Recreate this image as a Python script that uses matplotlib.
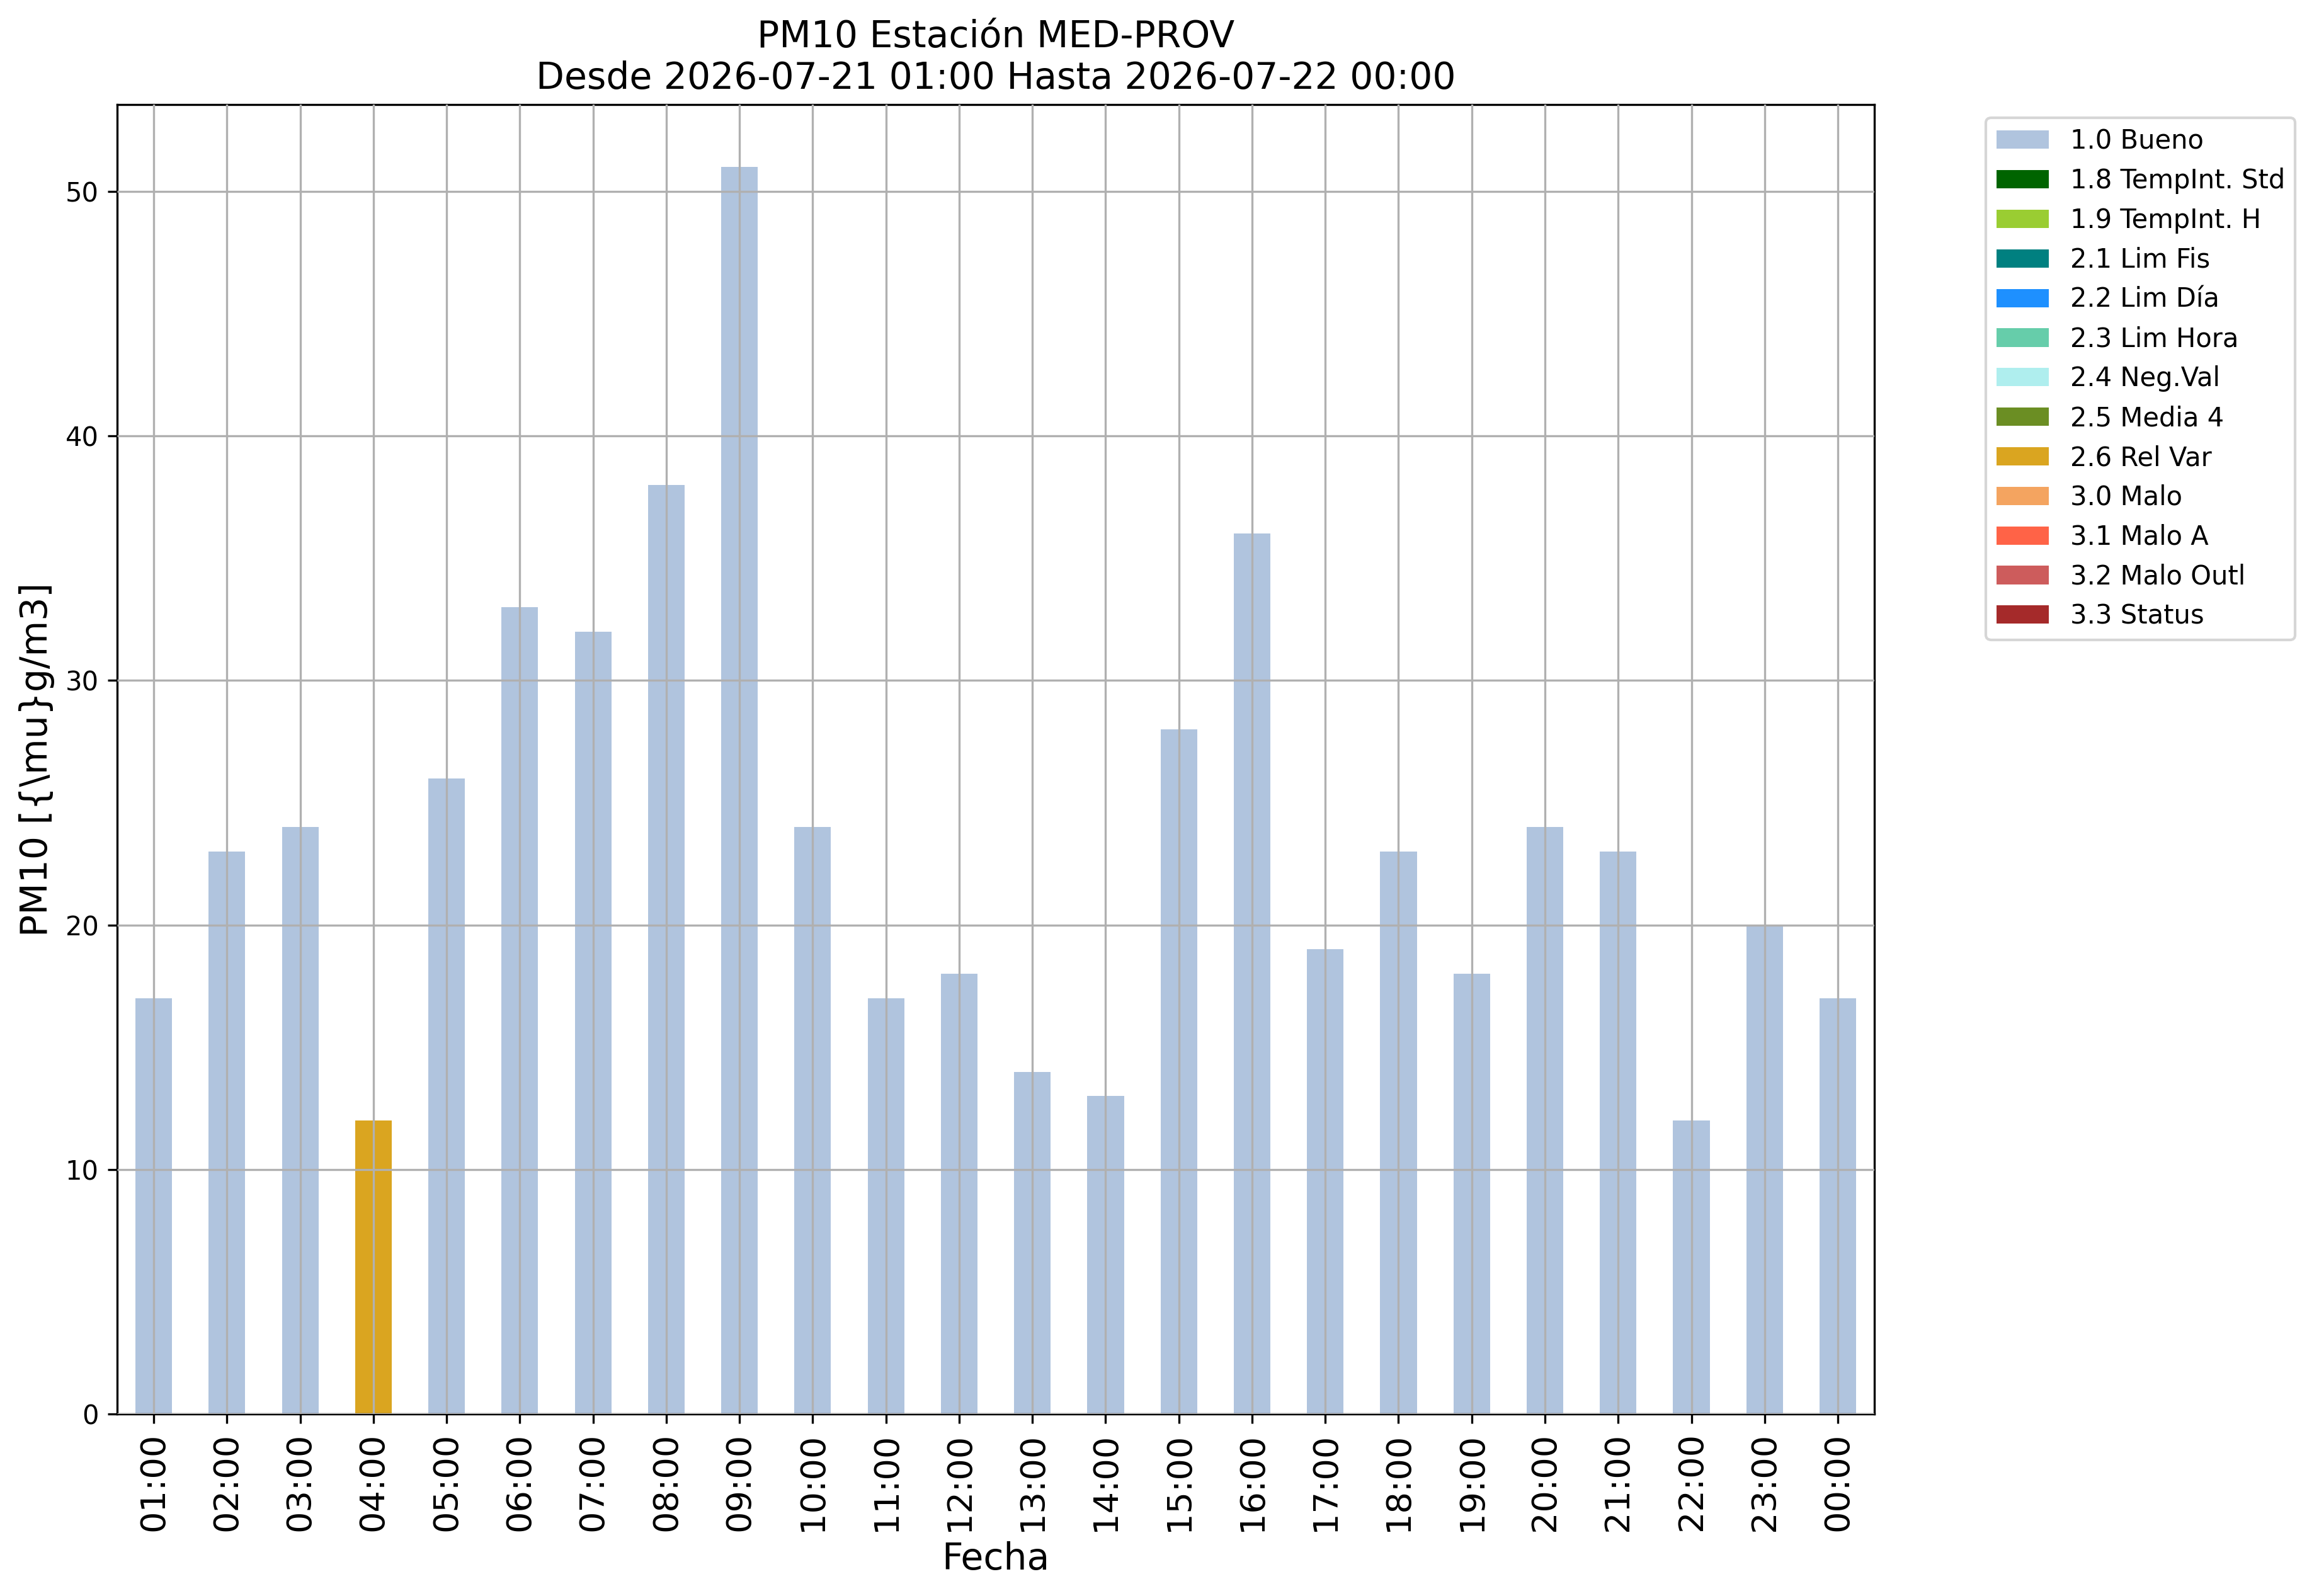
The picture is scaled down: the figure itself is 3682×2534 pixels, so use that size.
import numpy as np
import matplotlib
matplotlib.use('Agg')
import matplotlib.pyplot as plt

# Hourly PM10 values and their validation flag
horas = ['01:00', '02:00', '03:00', '04:00', '05:00', '06:00', '07:00', '08:00',
         '09:00', '10:00', '11:00', '12:00', '13:00', '14:00', '15:00', '16:00',
         '17:00', '18:00', '19:00', '20:00', '21:00', '22:00', '23:00', '00:00']
valores = [17, 23, 24, 12, 26, 33, 32, 38, 51, 24, 17, 18, 14, 13, 28, 36,
           19, 23, 18, 24, 23, 12, 20, 17]
flags = ['1.0 Bueno', '1.0 Bueno', '1.0 Bueno', '2.6 Rel Var', '1.0 Bueno',
         '1.0 Bueno', '1.0 Bueno', '1.0 Bueno', '1.0 Bueno', '1.0 Bueno',
         '1.0 Bueno', '1.0 Bueno', '1.0 Bueno', '1.0 Bueno', '1.0 Bueno',
         '1.0 Bueno', '1.0 Bueno', '1.0 Bueno', '1.0 Bueno', '1.0 Bueno',
         '1.0 Bueno', '1.0 Bueno', '1.0 Bueno', '1.0 Bueno']

categorias = ['1.0 Bueno', '1.8 TempInt. Std', '1.9 TempInt. H', '2.1 Lim Fis',
              '2.2 Lim Día', '2.3 Lim Hora', '2.4 Neg.Val', '2.5 Media 4',
              '2.6 Rel Var', '3.0 Malo', '3.1 Malo A', '3.2 Malo Outl', '3.3 Status']
colores = ['lightsteelblue', 'darkgreen', 'yellowgreen', 'teal', 'dodgerblue',
           'mediumaquamarine', 'paleturquoise', 'olivedrab', 'goldenrod',
           'sandybrown', 'tomato', 'indianred', 'brown']

titulo = 'PM10 Estación MED-PROV\nDesde 2026-07-21 01:00 Hasta 2026-07-22 00:00'

fig = plt.figure(figsize=(3682 / 300, 2534 / 300), dpi=300)
ax = fig.add_axes([0.0505, 0.1140, 0.7578, 0.8205])

x = np.arange(len(horas))
vals = np.array(valores, dtype=float)
bottom = np.zeros(len(horas))
for cat, col in zip(categorias, colores):
    serie = np.where(np.array(flags) == cat, vals, 0.0)
    ax.bar(x, serie, width=0.5, bottom=bottom, color=col, label=cat)
    bottom += serie

ax.set_axisbelow(False)
ax.grid(True, color='#b0b0b0', linewidth=0.8)
ax.set_xlim(-0.5, len(horas) - 0.5)
ax.set_ylim(0, max(valores) * 1.05)
ax.set_xticks(x)
ax.set_xticklabels(horas, rotation=90, fontsize=13)
ax.tick_params(axis='y', labelsize=10)

ax.set_title(titulo, fontsize=14)
ax.set_xlabel('Fecha', fontsize=14)
ax.set_ylabel('PM10 [{\\mu}g/m3]', fontsize=14)

ax.legend(loc='upper left', bbox_to_anchor=(1.056, 1), fontsize=10)

fig.savefig('out.png', dpi=300)
